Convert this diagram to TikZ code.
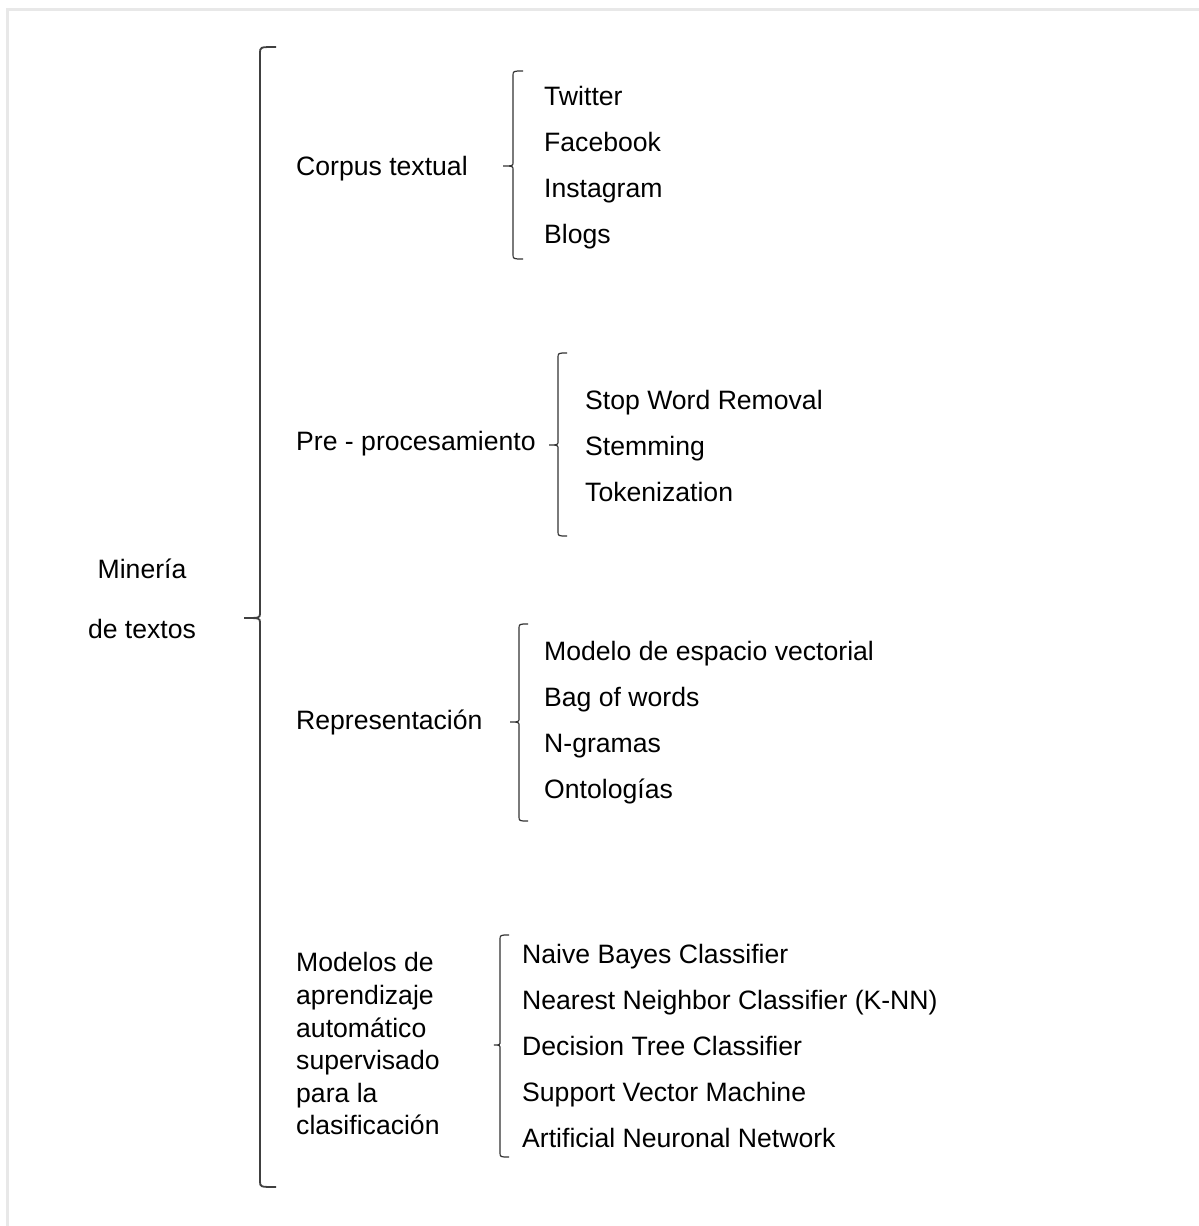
\documentclass[tikz,border=0pt]{standalone}
\usepackage{fontspec}
\setmainfont{Liberation Sans}
\begin{document}
\begin{tikzpicture}[x=1pt,y=-1pt,
  lbl/.style={anchor=base west,inner sep=0pt,font=\fontsize{26.6}{32.5}\selectfont},
  bigbrace/.style={draw=black!75,line width=1.8pt},
  smallbrace/.style={draw=black!80,line width=1.2pt},
  frameline/.style={draw=black!9,line width=3pt}]
\useasboundingbox (0,0) rectangle (1199,1226);
% faint page frame
\draw[frameline] (7,1226) -- (7,9) -- (1199,9);

% root
\node[lbl,anchor=base] (root1) at (142,578) {Minería};
\node[lbl,anchor=base] (root2) at (142,638) {de textos};
\draw[bigbrace] (276,47) .. controls (260,47) .. (260,53)
  -- (260,613) .. controls (260,618) .. (244,618)
  .. controls (260,618) .. (260,623)
  -- (260,1181) .. controls (260,1187) .. (276,1187);

% Corpus textual
\node[lbl] (corpus) at (296,175.5) {Corpus textual};
\draw[smallbrace] (523,71) .. controls (513,71) .. (513,76)
  -- (513,162) .. controls (513,166) .. (503,166)
  .. controls (513,166) .. (513,170)
  -- (513,254) .. controls (513,259) .. (523,259);
\node[lbl] (c1) at (544,105.5) {Twitter};
\node[lbl] (c2) at (544,151.5) {Facebook};
\node[lbl] (c3) at (544,197.5) {Instagram};
\node[lbl] (c4) at (544,243.5) {Blogs};

% Pre-procesamiento
\node[lbl] (pre) at (296,450) {Pre - procesamiento};
\draw[smallbrace] (567,353) .. controls (558,353) .. (558,358)
  -- (558,441) .. controls (558,445) .. (549,445)
  .. controls (558,445) .. (558,449)
  -- (558,531) .. controls (558,536) .. (567,536);
\node[lbl] (p1) at (585,409.5) {Stop Word Removal};
\node[lbl] (p2) at (585,455.5) {Stemming};
\node[lbl] (p3) at (585,501.5) {Tokenization};

% Representacion
\node[lbl] (rep) at (296,729) {Representación};
\draw[smallbrace] (528,624) .. controls (519,624) .. (519,629)
  -- (519,718) .. controls (519,722) .. (510,722)
  .. controls (519,722) .. (519,726)
  -- (519,816) .. controls (519,821) .. (528,821);
\node[lbl] (r1) at (544,660) {Modelo de espacio vectorial};
\node[lbl] (r2) at (544,706) {Bag of words};
\node[lbl] (r3) at (544,752) {N-gramas};
\node[lbl] (r4) at (544,798) {Ontologías};

% Modelos de aprendizaje
\node[lbl] (m0a) at (296,971.5) {Modelos de};
\node[lbl] (m0b) at (296,1004.5) {aprendizaje};
\node[lbl] (m0c) at (296,1037.5) {automático};
\node[lbl] (m0d) at (296,1069.5) {supervisado};
\node[lbl] (m0e) at (296,1102) {para la};
\node[lbl] (m0f) at (296,1134.5) {clasificación};
\draw[smallbrace] (509,935) .. controls (500,935) .. (500,940)
  -- (500,1041) .. controls (500,1045) .. (494,1045)
  .. controls (500,1045) .. (500,1049)
  -- (500,1152) .. controls (500,1157) .. (509,1157);
\node[lbl] (k1) at (522,963) {Naive Bayes Classifier};
\node[lbl] (k2) at (522,1009) {Nearest Neighbor Classifier (K-NN)};
\node[lbl] (k3) at (522,1055) {Decision Tree Classifier};
\node[lbl] (k4) at (522,1101) {Support Vector Machine};
\node[lbl] (k5) at (522,1147) {Artificial Neuronal Network};
\end{tikzpicture}
\end{document}
